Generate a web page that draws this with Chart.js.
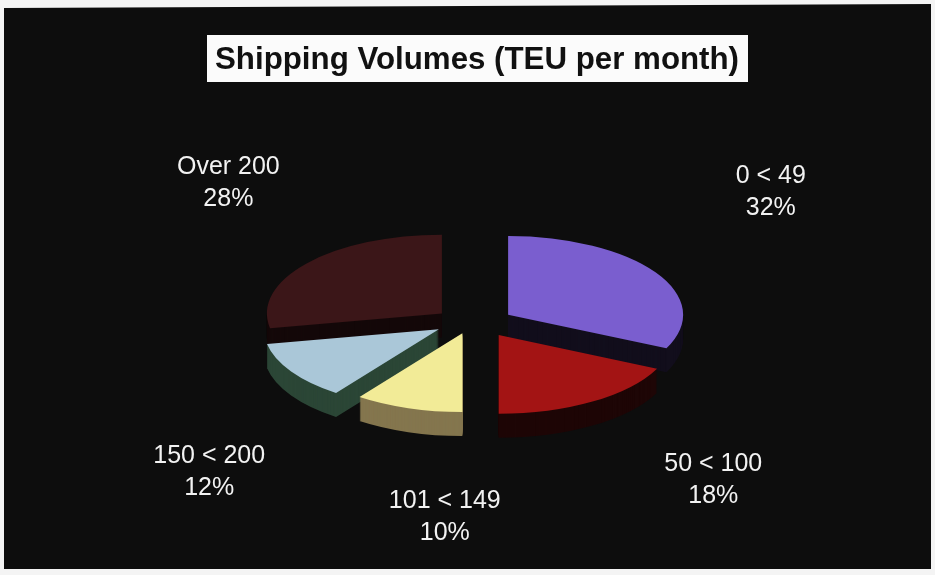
<!DOCTYPE html>
<html>
<head>
<meta charset="utf-8">
<script src="https://cdn.jsdelivr.net/npm/chart.js@4/dist/chart.umd.min.js"></script>
<style>
  html, body { margin: 0; padding: 0; background: #f4f4f4; }
  #wrap { position: relative; width: 935px; height: 575px; }
  canvas { display: block; }
</style>
</head>
<body>
<div id="wrap"><canvas id="c" width="935" height="575"></canvas></div>
<script>
// Monthly shipping volume bands (TEU) and their share of shippers
const categories = ['0 < 49', '50 < 100', '101 < 149', '150 < 200', 'Over 200'];
const shares = [32, 18, 10, 12, 28];
const topColors = ['#7a5ecf', '#a31414', '#f2eb97', '#aac7d8', '#3b1618'];
const sideColors = ['#120e1c', '#1e0606', '#84764e', '#2b4636', '#140809'];
const titleText = 'Shipping Volumes (TEU per month)';

// view settings for the tilted, extruded, exploded pie
const TILT = 0.45;          // vertical squash of the pie disc
const DEPTH = 24;           // thickness of the extruded rim in px
const EXPLODE_Y = 0.33;     // vertical share of each slice's pull-out
const explode = [41, 47, 36, 41, 41];   // pull-out distance per slice, px
// shifts of each label block from its default spot around the pie
const labelNudge = [[44, -28], [79, -2], [64, 14], [-11, 48], [-14, -18]];

function sliceShift(arc, i) {
  const mid = (arc.startAngle + arc.endAngle) / 2;
  return [Math.cos(mid) * explode[i], Math.sin(mid) * explode[i] * EXPLODE_Y];
}

function drawSlice(ctx, arc, i, drop, color) {
  const [dx, dy] = sliceShift(arc, i);
  let el = arc;
  if (color) {
    el = Object.create(arc);
    el.options = Object.assign({}, arc.options, {
      backgroundColor: color, borderColor: color, borderWidth: 0
    });
  }
  ctx.save();
  ctx.translate(dx, dy + drop);
  ctx.translate(arc.x, arc.y);
  ctx.scale(1, TILT);
  ctx.translate(-arc.x, -arc.y);
  el.draw(ctx);
  ctx.restore();
}

const backdrop = {
  id: 'backdrop',
  beforeDraw(chart) {
    const ctx = chart.ctx;
    ctx.save();
    ctx.fillStyle = '#f4f4f4';
    ctx.fillRect(0, 0, chart.width, chart.height);
    ctx.fillStyle = '#0d0d0d';
    ctx.beginPath();
    ctx.moveTo(4, 8); ctx.lineTo(931, 4); ctx.lineTo(931, 569); ctx.lineTo(4, 569);
    ctx.closePath();
    ctx.fill();
    // title box
    ctx.fillStyle = '#fbfbfb';
    ctx.fillRect(207, 35, 541, 47);
    ctx.fillStyle = '#111';
    ctx.font = 'bold 32px "Liberation Sans", Arial, sans-serif';
    ctx.textAlign = 'center';
    ctx.textBaseline = 'alphabetic';
    ctx.fillText(titleText, 477, 69, 524);
    ctx.restore();
  }
};

const tiltedPie = {
  id: 'tiltedPie',
  beforeDatasetsDraw(chart) {
    const ctx = chart.ctx;
    const arcs = chart.getDatasetMeta(0).data;
    // rim: stack each slice downwards in its darker side colour
    for (let d = DEPTH; d >= 1; d--) {
      arcs.forEach((arc, i) => drawSlice(ctx, arc, i, d, sideColors[i]));
    }
    // top faces
    arcs.forEach((arc, i) => drawSlice(ctx, arc, i, 0, null));
    return false;
  },
  afterDraw(chart) {
    const ctx = chart.ctx;
    const arcs = chart.getDatasetMeta(0).data;
    const total = shares.reduce((s, v) => s + v, 0);
    ctx.save();
    ctx.fillStyle = '#f2f2f2';
    ctx.font = '25px "Liberation Sans", Arial, sans-serif';
    ctx.textAlign = 'center';
    ctx.textBaseline = 'middle';
    arcs.forEach((arc, i) => {
      const mid = (arc.startAngle + arc.endAngle) / 2;
      const x = arc.x + Math.cos(mid) * 300 + labelNudge[i][0];
      const y = arc.y + Math.sin(mid) * 190 + labelNudge[i][1];
      const pct = Math.round(shares[i] / total * 100) + '%';
      ctx.fillText(categories[i], x, y - 16);
      ctx.fillText(pct, x, y + 16);
    });
    ctx.restore();
  }
};

new Chart(document.getElementById('c'), {
  type: 'pie',
  data: {
    labels: categories,
    datasets: [{
      data: shares,
      backgroundColor: topColors,
      borderWidth: 0,
      radius: 175,
      clip: false
    }]
  },
  options: {
    responsive: false,
    animation: false,
    events: [],
    layout: { padding: { left: 12, right: 0, top: 69, bottom: 0 } },
    plugins: {
      legend: { display: false },
      title: { display: false },
      tooltip: { enabled: false }
    }
  },
  plugins: [backdrop, tiltedPie]
});
</script>
</body>
</html>
